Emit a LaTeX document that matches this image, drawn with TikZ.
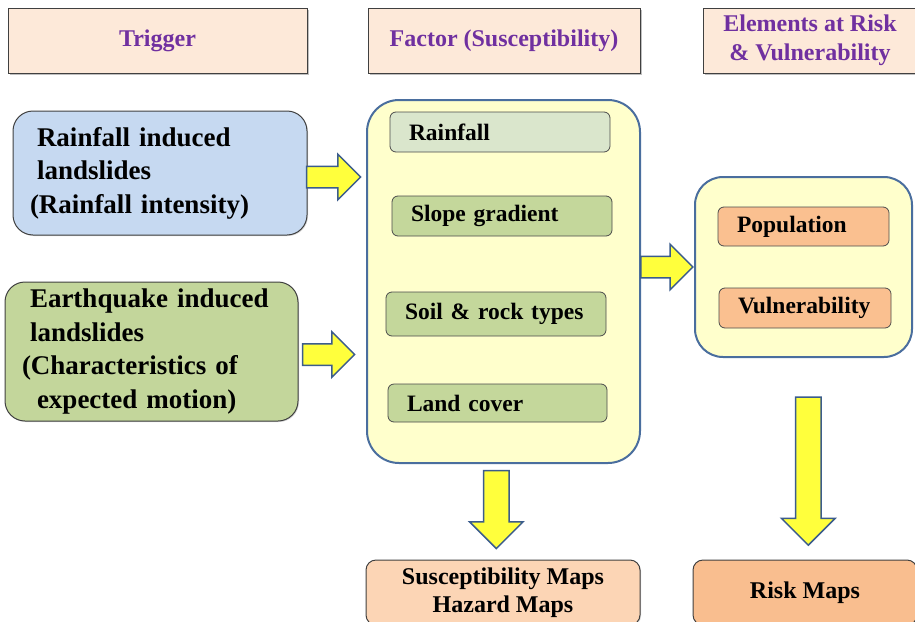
\documentclass[tikz,border=0pt]{standalone}
\usepackage{fontspec}
\setmainfont{Liberation Serif}
\usetikzlibrary{shapes.arrows,shadows}
\definecolor{headfill}{HTML}{FDE9D9}
\definecolor{headtext}{HTML}{7030A0}
\definecolor{rainfill}{HTML}{C6D9F1}
\definecolor{quakefill}{HTML}{C3D69B}
\definecolor{groupfill}{HTML}{FFFFCC}
\definecolor{groupline}{HTML}{4A6E9E}
\definecolor{paleitem}{HTML}{DAE6CC}
\definecolor{greenitem}{HTML}{C4D79B}
\definecolor{orangeitem}{HTML}{FAC090}
\definecolor{suscfill}{HTML}{FCD5B5}
\definecolor{riskfill}{HTML}{F9BE8F}
\definecolor{arrowfill}{HTML}{FFFF3C}
\definecolor{arrowline}{HTML}{3B5C8C}
\begin{document}
\begin{tikzpicture}[x=1pt, y=-1pt,
    head/.style={draw=black!75, line width=1pt, fill=headfill, text=headtext,
        font=\bfseries\fontsize{24}{29}\selectfont, align=center,
        drop shadow={shadow xshift=1.5pt, shadow yshift=-1.5pt, opacity=0.5}},
    trig/.style={draw=black!75, line width=1pt, rounded corners=20pt,
        font=\bfseries\fontsize{27}{33.5}\selectfont, align=left, inner xsep=17pt,
        drop shadow={shadow xshift=1pt, shadow yshift=-1pt, opacity=0.3}},
    group/.style={draw=groupline, line width=2pt, fill=groupfill, rounded corners=32pt},
    item/.style={draw=black!70, line width=0.8pt, rounded corners=6pt, align=left,
        font=\bfseries\fontsize{23.5}{26}\selectfont, inner xsep=19pt},
    mapbox/.style={draw=black!75, line width=1pt, rounded corners=10pt, align=center,
        font=\bfseries\fontsize{24}{28}\selectfont,
        drop shadow={shadow xshift=1pt, shadow yshift=-1pt, opacity=0.3}},
    blockarrow/.style={single arrow, draw=arrowline, line width=1.5pt, fill=arrowfill,
        inner sep=10pt, single arrow head extend=12pt, single arrow head indent=0pt,
        minimum height=#1},
    bigarrow/.style={blockarrow=#1, inner sep=12pt, single arrow head extend=14pt}
]
    \useasboundingbox (0,0) rectangle (915,621);
    % Column headers
    \node[head, minimum width=299, minimum height=65] (trighead) at (157.5,40.5) {Trigger};
    \node[head, minimum width=272, minimum height=65] (facthead) at (504,40.5) {Factor (Susceptibility)};
    \node[head, minimum width=214, minimum height=65] (riskhead) at (810,40.5) {Elements at Risk\\\& Vulnerability};
    % Triggers
    \node[trig, fill=rainfill, text width=260, minimum height=124] (rain) at (160,173)
        {\hspace*{7pt}Rainfall induced\\\hspace*{7pt}landslides\\(Rainfall intensity)};
    \node[trig, fill=quakefill, text width=259, minimum height=139] (quake) at (151.5,351.5)
        {\hspace*{8pt}Earthquake induced\\\hspace*{8pt}landslides\\(Characteristics of\\\hspace*{15pt}expected motion)};
    % Susceptibility factors
    \node[group, minimum width=273, minimum height=363] (factor) at (503.5,281.5) {};
    \node[item, fill=paleitem, text width=182, minimum height=40] (frain) at (500,132) {Rainfall};
    \node[item, fill=greenitem, text width=182, minimum height=40] (fslope) at (502,216) {Slope gradient};
    \node[item, fill=greenitem, text width=182, minimum height=44] (fsoil) at (496,314) {\mbox{Soil \& rock types}};
    \node[item, fill=greenitem, text width=181, minimum height=38] (fland) at (497.5,403) {Land cover};
    % Elements at risk
    \node[group, rounded corners=28pt, minimum width=217, minimum height=180] (elem) at (803.5,267) {};
    \node[item, fill=orangeitem, text width=133, minimum height=39] (epop) at (803.5,226.5) {Population};
    \node[item, fill=orangeitem, text width=134, minimum height=40] (evul) at (805,308) {\mbox{Vulnerability}};
    % Maps
    \node[mapbox, fill=suscfill, minimum width=274, minimum height=65] (susc) at (503,592.5)
        {Susceptibility Maps\\Hazard Maps};
    \node[mapbox, fill=riskfill, minimum width=224, minimum height=65] (riskmap) at (805,592.5) {Risk Maps};
    % Block arrows
    \path (rain.east) -- (rain.east -| factor.west) node[midway, xshift=-8.5pt, yshift=-4pt, blockarrow=54] (arrrain) {};
    \path (quake.east) -- (quake.east -| factor.west) node[midway, xshift=-9pt, yshift=-3pt, blockarrow=52] (arrquake) {};
    \path (factor.east |- elem.west) -- (elem.west) node[midway, xshift=-6pt, blockarrow=52] (arrelem) {};
    \path ([xshift=-7pt]factor.south) -- ([xshift=-7pt]susc.north) node[pos=0.41, bigarrow=78, rotate=-90] (arrsusc) {};
    \path ([xshift=4pt]elem.south) -- ([xshift=4pt]riskmap.north) node[pos=0.53, bigarrow=148, rotate=-90] (arrrisk) {};
\end{tikzpicture}
\end{document}
